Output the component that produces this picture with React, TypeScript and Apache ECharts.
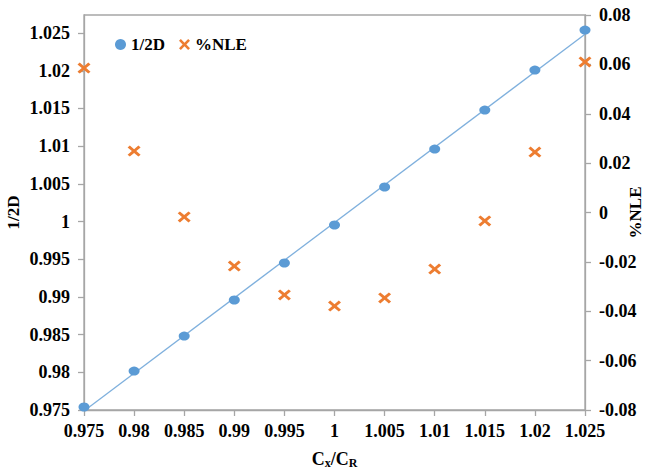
import React, { useEffect, useRef } from "react";
import * as echarts from "echarts";

const xValues = [0.975, 0.98, 0.985, 0.99, 0.995, 1.0, 1.005, 1.01, 1.015, 1.02, 1.025];
const halfD = [0.9754, 0.98017, 0.98481, 0.98959, 0.9945, 0.99954, 1.00458, 1.00962, 1.01479, 1.02009, 1.0254];
const nle = [0.0585, 0.0249, -0.0018, -0.0217, -0.0334, -0.0379, -0.0346, -0.0229, -0.0034, 0.0245, 0.061];
const leftTicks = [0.975, 0.98, 0.985, 0.99, 0.995, 1.0, 1.005, 1.01, 1.015, 1.02, 1.025];

const FONT = "'Liberation Serif', 'Times New Roman', serif";
const AXIS_COLOR = "#a6a6a6";
const BLUE = "#5b9bd5";
const ORANGE = "#ed7d31";
const X_PATH =
  "path://M0,1.7L1.7,0L5,3.3L8.3,0L10,1.7L6.7,5L10,8.3L8.3,10L5,6.7L1.7,10L0,8.3L3.3,5Z";

const fmt = (v: number) => String(+v.toFixed(3));

function fitLine(xs: number[], ys: number[]) {
  const n = xs.length;
  const mx = xs.reduce((a, b) => a + b, 0) / n;
  const my = ys.reduce((a, b) => a + b, 0) / n;
  let sxy = 0;
  let sxx = 0;
  for (let i = 0; i < n; i++) {
    sxy += (xs[i] - mx) * (ys[i] - my);
    sxx += (xs[i] - mx) * (xs[i] - mx);
  }
  const b = sxy / sxx;
  const a = my - b * mx;
  return [
    [xs[0], a + b * xs[0]],
    [xs[n - 1], a + b * xs[n - 1]],
  ];
}

export default function App() {
  const ref = useRef<HTMLDivElement>(null);
  useEffect(() => {
    if (!ref.current) return;
    const chart = echarts.init(ref.current, null, { renderer: "svg" });
    const labelStyle = {
      fontFamily: FONT,
      fontWeight: "bold" as const,
      fontSize: 18,
      color: "#000",
    };
    const axisLine = { show: true, onZero: false, lineStyle: { color: AXIS_COLOR, width: 1.3 } };
    const axisTick = { show: true, inside: false, length: 6, lineStyle: { color: AXIS_COLOR, width: 1.3 } };
    chart.setOption({
      animation: false,
      backgroundColor: "#fff",
      grid: {
        left: 84,
        right: 62,
        top: 15,
        bottom: 60,
        containLabel: false,
        outerBoundsMode: "none",
        show: true,
        borderColor: AXIS_COLOR,
        borderWidth: 1.3,
      },
      legend: {
        left: 110,
        top: 31,
        itemWidth: 11,
        itemHeight: 11,
        itemGap: 14,
        data: ["1/2D", "%NLE"],
        textStyle: { ...labelStyle, fontSize: 17 },
      },
      xAxis: {
        type: "value",
        min: 0.975,
        max: 1.025,
        interval: 0.005,
        name: "C{sub|x}/C{sub|R}",
        nameLocation: "middle",
        nameGap: 39,
        nameMoveOverlap: false,
        nameTextStyle: {
          ...labelStyle,
          rich: {
            sub: { ...labelStyle, fontSize: 12, verticalAlign: "bottom", padding: [8, 0, 0, 0] },
          },
        },
        axisLine,
        axisTick,
        splitLine: { show: false },
        axisLabel: { ...labelStyle, margin: 12, formatter: fmt },
      },
      yAxis: [
        {
          type: "value",
          position: "left",
          min: 0.975,
          max: 1.0274,
          interval: 0.005,
          name: "1/2D",
          nameLocation: "middle",
          nameRotate: 90,
          nameGap: 62,
          nameMoveOverlap: false,
          nameTextStyle: { ...labelStyle, fontSize: 17 },
          axisLine,
          axisTick: { ...axisTick, customValues: leftTicks },
          splitLine: { show: false },
          axisLabel: { ...labelStyle, margin: 14, formatter: fmt, customValues: leftTicks },
        },
        {
          type: "value",
          position: "right",
          min: -0.08,
          max: 0.08,
          interval: 0.02,
          name: "%NLE",
          nameLocation: "middle",
          nameRotate: 90,
          nameGap: 42,
          nameMoveOverlap: false,
          nameTextStyle: { ...labelStyle, fontSize: 17 },
          axisLine,
          axisTick,
          splitLine: { show: false },
          axisLabel: { ...labelStyle, margin: 14, formatter: (v: number) => String(+v.toFixed(2)) },
        },
      ],
      series: [
        {
          name: "trend",
          type: "line",
          yAxisIndex: 0,
          data: fitLine(xValues, halfD),
          showSymbol: false,
          symbol: "none",
          lineStyle: { color: "#7fb0dd", width: 1.3 },
          z: 1,
          silent: true,
        },
        {
          name: "1/2D",
          type: "scatter",
          yAxisIndex: 0,
          data: xValues.map((x, i) => [x, halfD[i]]),
          symbol: "circle",
          symbolSize: [11, 9],
          itemStyle: { color: BLUE, opacity: 1 },
          z: 3,
        },
        {
          name: "%NLE",
          type: "scatter",
          yAxisIndex: 1,
          data: xValues.map((x, i) => [x, nle[i]]),
          symbol: X_PATH,
          symbolSize: [13, 11],
          itemStyle: { color: ORANGE, opacity: 1 },
          z: 4,
        },
      ],
    });
    return () => chart.dispose();
  }, []);
  return <div ref={ref} style={{ width: 647, height: 470, position: "absolute", left: 0, top: 0 }} />;
}
